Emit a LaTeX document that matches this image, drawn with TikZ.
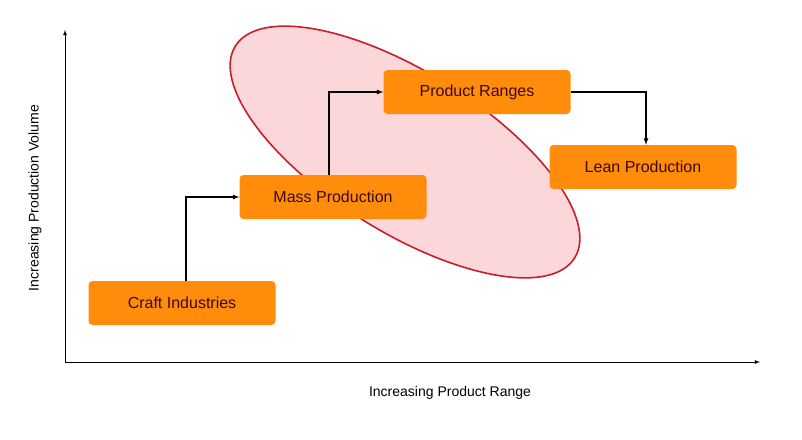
\documentclass[tikz,border=0pt]{standalone}
\usepackage{fontspec}
\setmainfont{Liberation Sans}
\usetikzlibrary{positioning}
\definecolor{boxorange}{RGB}{255,140,10}
\definecolor{boxtext}{RGB}{60,10,10}
\definecolor{ringred}{RGB}{200,30,40}
\definecolor{ringfill}{RGB}{252,215,218}
\tikzset{
    stage/.style={fill=boxorange, rounded corners=4pt, minimum width=187pt, minimum height=44pt,
        text=boxtext, font=\fontsize{16pt}{18pt}\selectfont, inner sep=0pt},
    stagelink/.style={very thick, -latex},
    axis/.style={thick, -latex}
}
\begin{document}
\begin{tikzpicture}[x=1pt, y=-1pt]
    \useasboundingbox (0,0) rectangle (802,439);
    \draw[ringred, line width=1.6pt, fill=ringfill] (405,152) ellipse[x radius=200, y radius=80, rotate=-32];

    \coordinate (origin) at (65,362);
    \coordinate (ytip) at (65,30);
    \coordinate (xtip) at (760,362);
    \draw[axis] (origin) -- (ytip);
    \draw[axis] (origin) -- (xtip);
    \node[rotate=90, font=\fontsize{14pt}{16pt}\selectfont] (ylab) at (35,198) {Increasing Production Volume};
    \node[font=\fontsize{14pt}{16pt}\selectfont] (xlab) at (450,393) {Increasing Product Range};

    \node[stage] (craft) at (182,303) {Craft Industries};
    \node[stage] (mass) at (333,197) {Mass Production};
    \node[stage] (ranges) at (477,92) {Product Ranges};
    \node[stage] (lean) at (643,167) {Lean Production};

    \draw[stagelink] ([xshift=4pt]craft.north) |- (mass.west);
    \draw[stagelink] ([xshift=-4pt]mass.north) |- (ranges.west);
    \draw[stagelink] (ranges.east) -| ([xshift=3pt]lean.north);
\end{tikzpicture}
\end{document}
